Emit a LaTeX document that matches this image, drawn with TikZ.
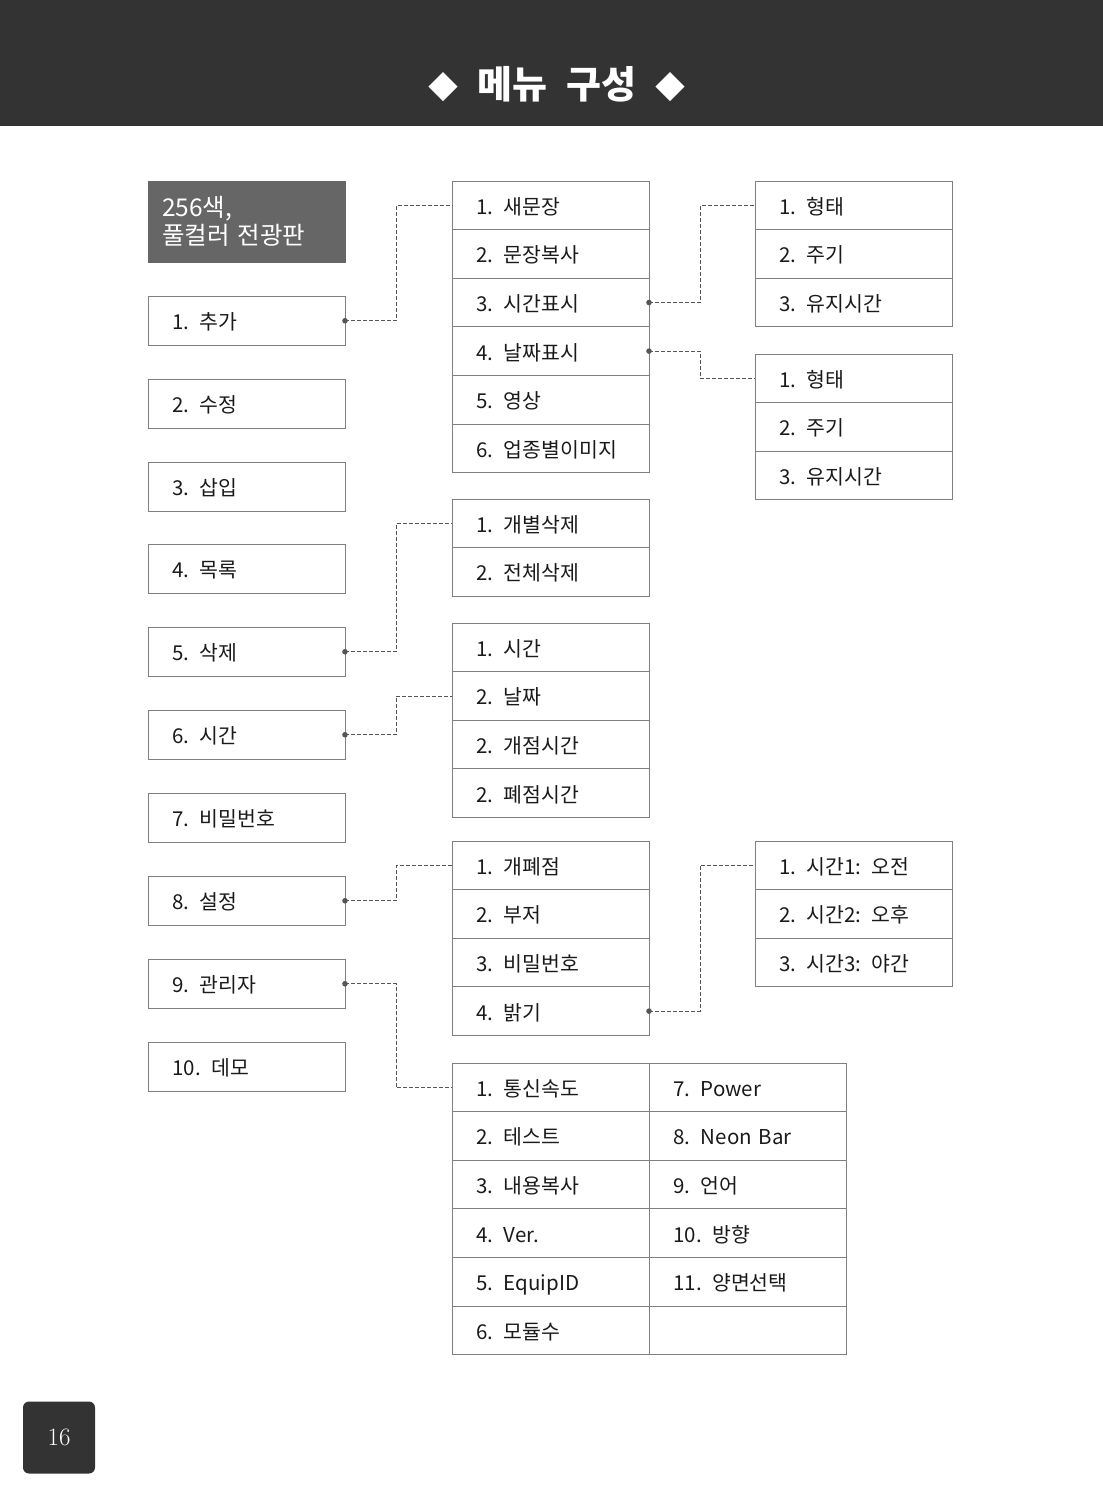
\documentclass[tikz,border=0pt]{standalone}
\usepackage{fontspec}
\newfontfamily\kr{Noto Sans CJK KR}
\newfontfamily\krtitle[WordSpace=2.2]{Noto Sans CJK KR}
\usetikzlibrary{positioning}
\definecolor{headgray}{HTML}{333333}
\definecolor{boxgray}{HTML}{666666}
\definecolor{linegray}{HTML}{808080}
\definecolor{dotgray}{HTML}{555555}
\definecolor{txtgray}{HTML}{1A1A1A}

\begin{document}
\begin{tikzpicture}[x=1pt, y=-1pt,
    item/.style={rectangle, draw=linegray, line width=0.9pt, outer sep=0pt, inner xsep=24.5pt, inner ysep=0pt,
      text width=148pt, text height=19pt, text depth=1pt, minimum height=48.6pt, align=left, text=txtgray,
      font=\kr\fontsize{20.5}{24}\selectfont},
    menu/.style={item, minimum height=49.5pt},
    link/.style={draw=dotgray, line width=0.8pt, dash pattern=on 4pt off 2pt},
    dot/.style={fill=dotgray}
  ]
    \useasboundingbox (0,0) rectangle (1103,1497);
    % header
    \fill[headgray] (0,0) rectangle (1103,126);
    \node[text=white, font=\krtitle\bfseries\fontsize{38}{40}\selectfont] (title) at (557,84)
      {{\fontsize{30}{30}\selectfont ◆} 메뉴 구성 {\fontsize{30}{30}\selectfont ◆}};

    % left column
    \node[item, fill=boxgray, draw=boxgray, text=white, inner xsep=14pt, text width=169pt, text height=, text depth=,
      minimum height=81pt, font=\kr\fontsize{24.5}{28}\selectfont, anchor=north west] (head) at (148,181) {256색,\\풀컬러 전광판};
    \node[menu, anchor=north west] (add) at (148,296) {1. 추가};
    \node[menu, anchor=north west] (edit) at (148,379) {2. 수정};
    \node[menu, anchor=north west] (ins) at (148,462) {3. 삽입};
    \node[menu, anchor=north west] (list) at (148,544) {4. 목록};
    \node[menu, anchor=north west] (del) at (148,627) {5. 삭제};
    \node[menu, anchor=north west] (time) at (148,710) {6. 시간};
    \node[menu, anchor=north west] (pw) at (148,793) {7. 비밀번호};
    \node[menu, anchor=north west] (set) at (148,876) {8. 설정};
    \node[menu, anchor=north west] (adm) at (148,959) {9. 관리자};
    \node[menu, anchor=north west] (demo) at (148,1042) {10. 데모};

    % add
    \node[item, anchor=north west] (a1) at (452,181) {1. 새문장};
    \node[item, below=0pt of a1] (a2) {2. 문장복사};
    \node[item, below=0pt of a2] (a3) {3. 시간표시};
    \node[item, below=0pt of a3] (a4) {4. 날짜표시};
    \node[item, below=0pt of a4] (a5) {5. 영상};
    \node[item, below=0pt of a5] (a6) {6. 업종별이미지};

    % time display / date display
    \node[item, anchor=north west] (f1) at (755,181) {1. 형태};
    \node[item, below=0pt of f1] (f2) {2. 주기};
    \node[item, below=0pt of f2] (f3) {3. 유지시간};
    \node[item, anchor=north west] (g1) at (755,354) {1. 형태};
    \node[item, below=0pt of g1] (g2) {2. 주기};
    \node[item, below=0pt of g2] (g3) {3. 유지시간};

    % delete
    \node[item, anchor=north west] (d1) at (452,499) {1. 개별삭제};
    \node[item, below=0pt of d1] (d2) {2. 전체삭제};

    % time
    \node[item, anchor=north west] (t1) at (452,623) {1. 시간};
    \node[item, below=0pt of t1] (t2) {2. 날짜};
    \node[item, below=0pt of t2] (t3) {2. 개점시간};
    \node[item, below=0pt of t3] (t4) {2. 폐점시간};

    % settings
    \node[item, anchor=north west] (s1) at (452,841) {1. 개폐점};
    \node[item, below=0pt of s1] (s2) {2. 부저};
    \node[item, below=0pt of s2] (s3) {3. 비밀번호};
    \node[item, below=0pt of s3] (s4) {4. 밝기};
    \node[item, anchor=north west] (b1) at (755,841) {1. 시간1: 오전};
    \node[item, below=0pt of b1] (b2) {2. 시간2: 오후};
    \node[item, below=0pt of b2] (b3) {3. 시간3: 야간};

    % admin
    \node[item, anchor=north west] (m1) at (452,1063) {1. 통신속도};
    \node[item, below=0pt of m1] (m2) {2. 테스트};
    \node[item, below=0pt of m2] (m3) {3. 내용복사};
    \node[item, below=0pt of m3] (m4) {4. Ver.};
    \node[item, below=0pt of m4] (m5) {5. EquipID};
    \node[item, below=0pt of m5] (m6) {6. 모듈수};
    \node[item, right=0pt of m1] (m7) {7. Power};
    \node[item, right=0pt of m2] (m8) {8. Neon Bar};
    \node[item, right=0pt of m3] (m9) {9. 언어};
    \node[item, right=0pt of m4] (m10) {10. 방향};
    \node[item, right=0pt of m5] (m11) {11. 양면선택};
    \node[item, right=0pt of m6] (m12) {};

    % links
    \draw[link] (add.east) -- ++(51pt,0) |- (a1.west);
    \draw[link] (del.east) -- ++(51pt,0) |- (d1.west);
    \draw[link] (time.east) -- ++(51pt,0) |- (t2.west);
    \draw[link] (set.east) -- ++(51pt,0) |- (s1.west);
    \draw[link] (adm.east) -- ++(51pt,0) |- (m1.west);
    \draw[link] (a3.east) -- ++(51pt,0) |- (f1.west);
    \draw[link] (a4.east) -- ++(51pt,0) |- (g1.west);
    \draw[link] (s4.east) -- ++(51pt,0) |- (b1.west);
    \foreach \n in {add,del,time,set,adm,a3,a4,s4}
      \fill[dot] (\n.east) circle (2.8pt);

    % page number
    \node[rectangle, rounded corners=6pt, fill=headgray, minimum size=72pt, text=white,
      font=\fontsize{25}{30}\selectfont] (page) at (59,1437.5) {16};
  \end{tikzpicture}
\end{document}
